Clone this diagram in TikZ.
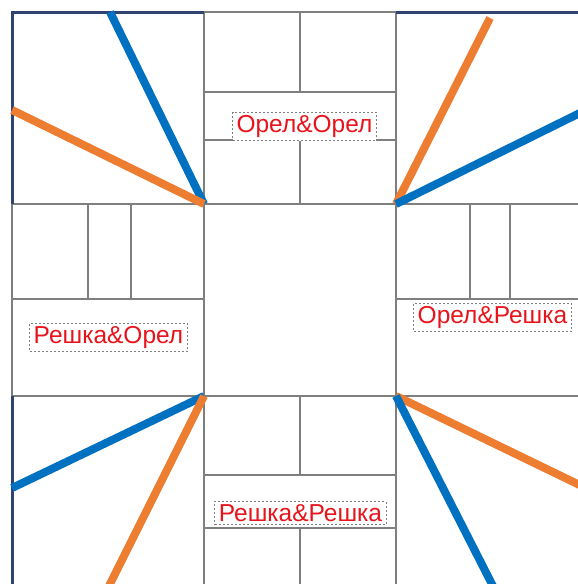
\documentclass[tikz,border=0pt]{standalone}
\usepackage{fontspec}
\setmainfont{Liberation Sans}
\usetikzlibrary{positioning}
\definecolor{rayblue}{HTML}{0070C0}
\definecolor{rayorange}{HTML}{ED7D31}
\definecolor{framenavy}{HTML}{2F4470}
\definecolor{gridgray}{HTML}{7F7F7F}
\definecolor{labelred}{HTML}{E8141C}

\tikzset{
  gridline/.style={draw=gridgray, line width=2pt},
  frameline/.style={draw=framenavy, line width=3pt},
  blueray/.style={draw=rayblue, line width=8pt},
  orangeray/.style={draw=rayorange, line width=8pt},
  outcome/.style={draw=gridgray, line width=1pt, dash pattern=on 2pt off 2pt,
    fill=white, text=labelred, inner xsep=4pt, inner ysep=3pt,
    font=\fontsize{24.5}{26}\selectfont}
}

\begin{document}
\begin{tikzpicture}[x=1pt, y=-1pt]
  \useasboundingbox (0,0) rectangle (578,584);
  \clip (0,0) rectangle (578,584);

  % grid
  \draw[gridline] (12,204) -- (578,204) (12,396) -- (578,396);
  \draw[gridline] (204,12) -- (204,584) (396,12) -- (396,584);
  \draw[gridline] (204,12) -- (396,12) (12,204) -- (12,396);
  % top middle
  \draw[gridline] (204,92) -- (396,92) (204,140) -- (396,140);
  \draw[gridline] (300,12) -- (300,92) (300,140) -- (300,204);
  % left middle
  \draw[gridline] (12,299) -- (204,299);
  \draw[gridline] (88,204) -- (88,299) (131,204) -- (131,299);
  % right middle
  \draw[gridline] (396,299) -- (578,299);
  \draw[gridline] (470,204) -- (470,299) (510,204) -- (510,299);
  % bottom middle
  \draw[gridline] (204,475) -- (396,475) (204,528) -- (396,528);
  \draw[gridline] (300,396) -- (300,475) (300,528) -- (300,584);

  % frame
  \draw[frameline] (12,204) -- (12,12) -- (204,12);
  \draw[frameline] (396,12) -- (578,12);
  \draw[frameline] (12,396) -- (12,584);

  % corners and ray ends
  \coordinate (tl) at (204,204);
  \coordinate (tr) at (396,204);
  \coordinate (bl) at (204,396);
  \coordinate (br) at (396,396);
  \coordinate (tl-b) at (110,12);
  \coordinate (tl-o) at (12,110);
  \coordinate (tr-o) at (490,18);
  \coordinate (tr-b) at (590,108);
  \coordinate (bl-b) at (12,488);
  \coordinate (bl-o) at (105,594);
  \coordinate (br-o) at (590,490);
  \coordinate (br-b) at (497,594);

  % rays
  \draw[blueray] (tl) -- (tl-b);
  \draw[orangeray] (tl) -- (tl-o);
  \draw[orangeray] (tr) -- (tr-o);
  \draw[blueray] (tr) -- (tr-b);
  \draw[blueray] (bl) -- (bl-b);
  \draw[orangeray] (bl) -- (bl-o);
  \draw[orangeray] (br) -- (br-o);
  \draw[blueray] (br) -- (br-b);

  % outcomes
  \node[outcome] (hh) at (304.5,126.5) {Орел\&Орел};
  \node[outcome] (th) at (108.5,337.5) {Решка\&Орел};
  \node[outcome] (ht) at (492.5,317.5) {Орел\&Решка};
  \node[outcome] (tt) at (300.5,513) {Решка\&Решка};
\end{tikzpicture}
\end{document}
